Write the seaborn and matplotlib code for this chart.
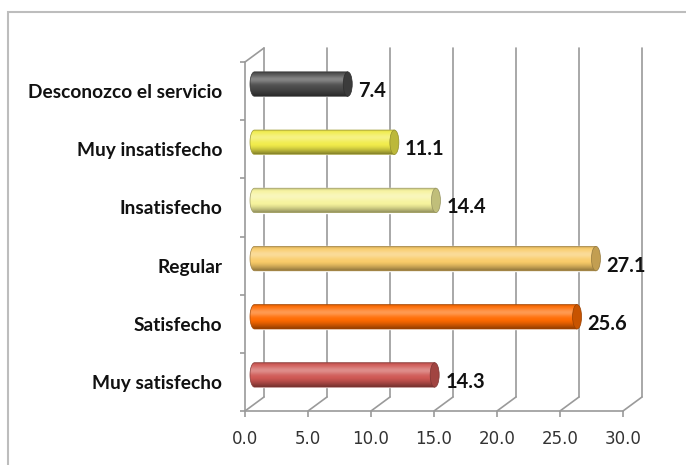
import numpy as np
import pandas as pd
import matplotlib
matplotlib.use("Agg")
import matplotlib.pyplot as plt
import matplotlib.transforms as mtransforms
from matplotlib.patches import Ellipse, PathPatch, Rectangle
from matplotlib.path import Path
from matplotlib.colors import to_rgb
import seaborn as sns

# Survey results: satisfaction with the service (%)
categories = [
    "Desconozco el servicio",
    "Muy insatisfecho",
    "Insatisfecho",
    "Regular",
    "Satisfecho",
    "Muy satisfecho",
]
values = [7.4, 11.1, 14.4, 27.1, 25.6, 14.3]
bar_colors = ["#4b4b4b", "#f1ec4a", "#f6f39c", "#f9cb68", "#ff6a00", "#cf5753"]
x_ticks = [0, 5, 10, 15, 20, 25, 30]
x_tick_labels = ["0.0", "5.0", "10.0", "15.0", "20.0", "25.0", "30.0"]

W, H = 686, 465
DPI = 100
GRID = "#9a9a9a"

sns.set_style("white")
fig = plt.figure(figsize=(W / DPI, H / DPI), dpi=DPI)

# front plane of the 3-D box, in pixels
left_px, right_px, top_px, bottom_px = 245, 623, 62, 411
ax = fig.add_axes([left_px / W, (H - bottom_px) / H,
                   (right_px - left_px) / W, (bottom_px - top_px) / H])

df = pd.DataFrame({"categoria": categories, "porcentaje": values})
sns.barplot(data=df, x="porcentaje", y="categoria", hue="categoria",
            palette=bar_colors, width=0.42, legend=False, saturation=1,
            ax=ax, zorder=3)

xmax = x_ticks[-1]
n = len(categories)
ax.set_xlim(0, xmax)
ax.set_ylim(n - 0.5, -0.5)

# depth of the box (pixels), converted to data units
depth_px = (19, 14)
px_per_x = (right_px - left_px) / xmax
px_per_y = (bottom_px - top_px) / n
ddx = depth_px[0] / px_per_x
ddy = depth_px[1] / px_per_y

mid = mtransforms.ScaledTranslation(depth_px[0] / 2 / DPI, depth_px[1] / 2 / DPI,
                                    fig.dpi_scale_trans)
bar_trans = ax.transData + mid

# back wall verticals and floor diagonals
for x in x_ticks:
    ax.plot([x + ddx, x + ddx], [n - 0.5 - ddy, -0.5 - ddy], color=GRID,
            lw=1.2, clip_on=False, zorder=1)
    ax.plot([x, x + ddx], [n - 0.5, n - 0.5 - ddy], color=GRID,
            lw=1.2, clip_on=False, zorder=1)
ax.plot([0, ddx], [-0.5, -0.5 - ddy], color=GRID, lw=1.2, clip_on=False, zorder=1)


def shade_profile(base, rows=80):
    """Vertical colour profile giving the bars a cylindrical look."""
    base = np.array(to_rgb(base))
    t = np.linspace(0, 1, rows)[:, None]
    light = 0.32 * np.exp(-((t - 0.33) / 0.17) ** 2)
    dark = (0.45 * np.clip((t - 0.62) / 0.38, 0, 1) ** 1.4
            + 0.22 * np.exp(-(t / 0.06) ** 2))
    col = base + (1 - base) * light
    col = col * (1 - dark)
    return np.clip(col, 0, 1)[:, None, :]


cap_a = 4.5 / px_per_x  # horizontal semi-axis of the end ellipses
bars = sorted([p for p in ax.patches if isinstance(p, Rectangle)], key=lambda p: p.get_y())
for patch, color in zip(bars, bar_colors):
    patch.set_transform(bar_trans)
    x0, w = patch.get_x(), patch.get_width()
    y0, h = patch.get_y(), patch.get_height()
    yc = y0 + h / 2

    th = np.linspace(-np.pi / 2, np.pi / 2, 40)
    verts = np.column_stack([x0 - cap_a * np.cos(th), yc + (h / 2) * np.sin(th)])
    verts = np.vstack([verts, [x0 + w, y0 + h], [x0 + w, y0], verts[:1]])
    codes = [Path.MOVETO] + [Path.LINETO] * (len(verts) - 2) + [Path.CLOSEPOLY]
    body = PathPatch(Path(verts, codes), transform=bar_trans, facecolor="none",
                     edgecolor=tuple(np.array(to_rgb(color)) * 0.65), lw=0.5, zorder=5)
    ax.add_patch(body)

    im = ax.imshow(shade_profile(color), extent=(x0 - cap_a, x0 + w, y0 + h, y0),
                   aspect="auto", interpolation="bilinear", zorder=4)
    im.set_transform(bar_trans)
    im.set_clip_path(body)

    base = np.array(to_rgb(color))
    cap = Ellipse((x0 + w, yc), 2 * cap_a, h, transform=bar_trans,
                  facecolor=tuple(base * 0.78), edgecolor=tuple(base * 0.6),
                  lw=0.5, zorder=6)
    ax.add_patch(cap)

# value labels
label_trans = ax.transData + mtransforms.ScaledTranslation(20 / DPI, 0, fig.dpi_scale_trans)
for i, v in enumerate(values):
    ax.text(v, i, f"{v:.1f}", transform=label_trans, ha="left", va="center",
            fontsize=14.5, fontweight="bold", family="Lato", color="#111111",
            zorder=7)

ax.set_xlim(0, xmax)
ax.set_ylim(n - 0.5, -0.5)
ax.set_xlabel("")
ax.set_ylabel("")

ax.set_xticks(x_ticks)
ax.set_xticklabels(x_tick_labels, family="DejaVu Sans", fontsize=12, color="#333333")
ax.tick_params(axis="x", which="major", direction="out", length=4.5, width=1.2,
               color=GRID, pad=9, bottom=True)

ax.set_yticks(range(n))
ax.set_yticklabels(categories, family="Lato", fontweight="bold", fontsize=13.8,
                   color="#111111")
ax.tick_params(axis="y", which="major", length=0, pad=16.5)
ax.set_yticks(np.arange(-0.5, n, 1.0), minor=True)
ax.tick_params(axis="y", which="minor", direction="out", length=3.8, width=1.2,
               color=GRID, left=True)

for side in ("top", "right"):
    ax.spines[side].set_visible(False)
for side in ("left", "bottom"):
    ax.spines[side].set_color(GRID)
    ax.spines[side].set_linewidth(1.2)
ax.set_facecolor("none")

# chart area frame
frame = Rectangle((8 / W, -0.2), 2, (H - 12) / H + 0.2, transform=fig.transFigure,
                  facecolor="none", edgecolor="#bdbdbd", lw=1.5, clip_on=False)
fig.add_artist(frame)

fig.savefig("out.png", dpi=DPI)
